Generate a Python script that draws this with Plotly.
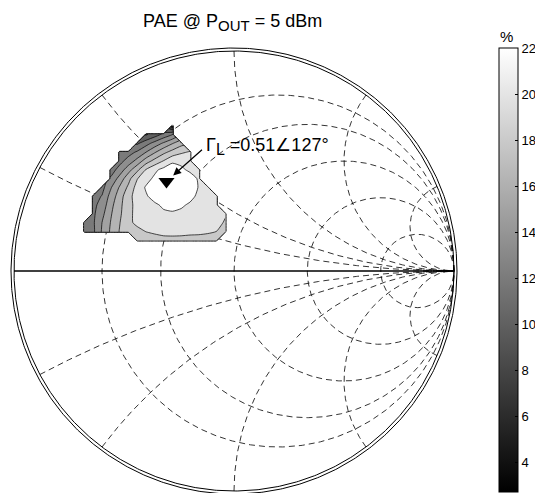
import numpy as np
import plotly.graph_objects as go

# ---------------- data ----------------
# Smith chart grid values (normalised resistance / reactance)
r_circles = [0.25, 0.5, 1, 2, 5]
x_arcs = [0.25, 0.5, 1, 2, 5, -0.25, -0.5, -1, -2, -5]

# Load reflection coefficient grid (real / imaginary part of Gamma_L)
gamma_re = [-0.68, -0.64, -0.60, -0.56, -0.52, -0.48, -0.44, -0.40, -0.36,
            -0.32, -0.28, -0.24, -0.20, -0.16, -0.12, -0.08, -0.04]
gamma_im = [0.14, 0.18, 0.22, 0.26, 0.30, 0.34, 0.38, 0.42,
            0.46, 0.50, 0.54, 0.58, 0.62, 0.66]

N = None
# PAE (%) on the grid above (rows: gamma_im, cols: gamma_re); None = not measured
pae = [
    [N, N, N, N, N, N, 16.6, 17.0, 17.3, 17.6, 17.6, 17.6, 17.5, 17.5, 17.4, 17.3, N],
    [9.2, 9.6, 12.2, 14.3, 16.1, 16.8, 17.5, 18.05, 18.3, 18.4, 18.45, 18.4, 18.35, 18.3, 18.2, 18.0, 17.6],
    [9.3, 9.7, 12.0, 14.1, 15.9, 17.6, 18.4, 18.8, 19.1, 19.3, 19.3, 19.2, 19.0, 18.8, 18.6, 18.3, 17.9],
    [N, 9.6, 11.4, 13.8, 15.6, 17.55, 18.5, 19.0, 19.4, 19.7, 19.8, 19.7, 19.5, 19.2, 18.9, 18.5, 18.1],
    [N, 9.5, 10.7, 13.4, 15.4, 17.5, 18.5, 19.1, 19.7, 20.3, 20.5, 20.2, 19.8, 19.4, 19.0, 18.6, N],
    [N, 9.2, 10.1, 12.75, 15.0, 17.4, 18.8, 19.8, 20.7, 21.3, 21.5, 21.1, 20.4, 19.7, 19.2, 18.8, N],
    [N, N, 9.3, 11.8, 14.2, 16.4, 18.8, 20.2, 21.1, 21.8, 22.0, 21.7, 20.9, 19.9, 19.3, N, N],
    [N, N, N, 10.3, 12.75, 15.3, 17.9, 19.3, 20.4, 21.3, 21.8, 21.5, 20.7, 19.8, N, N, N],
    [N, N, N, 9.0, 10.8, 13.2, 15.5, 18.15, 19.6, 20.6, 20.9, 20.3, 19.7, 19.3, N, N, N],
    [N, N, N, N, 9.3, 10.8, 12.7, 15.0, 16.7, 18.1, 19.7, 19.6, 19.2, N, N, N, N],
    [N, N, N, N, 8.3, 9.2, 10.3, 12.0, 13.8, 15.5, 16.7, 17.7, 18.2, N, N, N, N],
    [N, N, N, N, N, N, 7.7, 9.2, 10.8, 12.35, 13.9, 15.3, N, N, N, N, N],
    [N, N, N, N, N, N, N, 5.8, 7.0, 8.6, 10.0, N, N, N, N, N, N],
    [N, N, N, N, N, N, N, N, N, N, 2.7, N, N, N, N, N, N],
]

# optimum load
gamma_opt_mag = 0.51
gamma_opt_deg = 127

colorbar_ticks = [4, 6, 8, 10, 12, 14, 16, 18, 20, 22]
contour_levels = dict(start=4, end=20, size=2)
band_grays = ['#1a1a1a', '#3a3a3a', '#606060', '#7a7a7a', '#8e8e8e',
              '#a2a2a2', '#b4b4b4', '#c8c8c8', '#e3e3e3', '#ffffff']

# ---------------- figure ----------------
OFF = 8                               # page margin of the browser
W, H = 543 - OFF, 493 - OFF
CX, CY, RPX = 234 - OFF, 271 - OFF, 220   # chart centre / radius in pixels
xr = [-CX / RPX, (W - CX) / RPX]
yr = [(CY - H) / RPX, CY / RPX]

gray = [[0, 'rgb(0,0,0)'], [1, 'rgb(255,255,255)']]
band_scale = [[k / (len(band_grays) - 1), c] for k, c in enumerate(band_grays)]
dash = '6px,4px'
fig = go.Figure()

# resistance circles
t = np.linspace(0, 2 * np.pi, 721)
for r in r_circles:
    c, rad = r / (1 + r), 1 / (1 + r)
    fig.add_trace(go.Scatter(x=c + rad * np.cos(t), y=rad * np.sin(t), mode='lines',
                             line=dict(color='black', width=0.8, dash=dash),
                             hoverinfo='skip', showlegend=False))
# reactance arcs
rr = np.concatenate([[0.0], np.geomspace(1e-3, 1e4, 900)])
for xv in x_arcs:
    z = rr + 1j * xv
    g = (z - 1) / (z + 1)
    fig.add_trace(go.Scatter(x=g.real, y=g.imag, mode='lines',
                             line=dict(color='black', width=0.8, dash=dash),
                             hoverinfo='skip', showlegend=False))
# outer (double) circle
for rad in [1.0, 1.0136]:
    fig.add_trace(go.Scatter(x=rad * np.cos(t), y=rad * np.sin(t), mode='lines',
                             line=dict(color='black', width=1),
                             hoverinfo='skip', showlegend=False))
# real axis
fig.add_trace(go.Scatter(x=[-1, 1], y=[0, 0], mode='lines',
                         line=dict(color='black', width=1.6),
                         hoverinfo='skip', showlegend=False))

pae_arr = np.array(pae, dtype=float)
zmin, zmax = np.nanmin(pae_arr), np.nanmax(pae_arr)

gx = gamma_opt_mag * np.cos(np.deg2rad(gamma_opt_deg))
gy = gamma_opt_mag * np.sin(np.deg2rad(gamma_opt_deg))

fam = 'Arial, Liberation Sans'
# colourbar carrier (continuous gray scale)
fig.add_trace(go.Scatter(
    x=[gx], y=[gy], mode='markers', hoverinfo='skip', showlegend=False,
    marker=dict(size=1, opacity=0, color=[zmax], cmin=zmin, cmax=zmax,
                colorscale=gray, showscale=True,
                colorbar=dict(x=(499 - OFF) / W, xanchor='left', xpad=0, ypad=0,
                              thickness=19, thicknessmode='pixels',
                              len=444, lenmode='pixels',
                              y=1 - (270 - OFF) / H, yanchor='middle',
                              outlinewidth=1, outlinecolor='black',
                              tickvals=colorbar_ticks, ticks='inside', ticklen=3,
                              tickcolor='black',
                              tickfont=dict(family=fam, size=13, color='black')))))

# PAE filled contour (overlay axes so it sits above the grid)
fig.add_trace(go.Contour(
    x=gamma_re, y=gamma_im, z=pae, xaxis='x2', yaxis='y2',
    autocontour=False, contours=dict(coloring='fill', **contour_levels),
    colorscale=band_scale, showscale=False, connectgaps=False,
    line=dict(color='black', width=0.7, smoothing=0.5),
    hoverinfo='skip'))

# outline of the measured region
mask = np.pad((~np.isnan(pae_arr)).astype(float), 1)
du, dv = gamma_re[1] - gamma_re[0], gamma_im[1] - gamma_im[0]
u_p = np.concatenate([[gamma_re[0] - du], gamma_re, [gamma_re[-1] + du]])
v_p = np.concatenate([[gamma_im[0] - dv], gamma_im, [gamma_im[-1] + dv]])
fig.add_trace(go.Contour(
    x=u_p, y=v_p, z=mask, xaxis='x2', yaxis='y2',
    autocontour=False, contours=dict(coloring='none', start=0.9, end=0.9, size=1),
    line=dict(color='black', width=0.9, smoothing=0),
    showscale=False, hoverinfo='skip'))

# optimum marker
fig.add_trace(go.Scatter(x=[gx], y=[gy], xaxis='x2', yaxis='y2', mode='markers',
                         marker=dict(symbol='triangle-down', size=14, color='black'),
                         hoverinfo='skip', showlegend=False))

fig.add_annotation(x=gx, y=gy, xref='x2', yref='y2', text='', showarrow=True,
                   ax=37, ay=-33, axref='pixel', ayref='pixel', standoff=9,
                   arrowhead=2, arrowsize=1.3, arrowwidth=1.2, arrowcolor='black')
fig.add_annotation(x=gx, y=gy, xref='x2', yref='y2', showarrow=False,
                   text='Γ<sub><span style="font-size:16px">L</span></sub> =0.51∠127°',
                   xanchor='left', yanchor='middle',
                   xshift=38, yshift=35, font=dict(family=fam, size=18, color='black'))
fig.add_annotation(x=(232.5 - OFF) / W, y=1 - (22 - OFF) / H, xref='paper', yref='paper',
                   showarrow=False,
                   text='PAE @ P<sub><span style="font-size:15px">OUT</span></sub> = 5 dBm',
                   xanchor='center', yanchor='middle',
                   font=dict(family=fam, size=18, color='black'))
fig.add_annotation(x=(506 - OFF) / W, y=1 - (36 - OFF) / H, xref='paper', yref='paper',
                   showarrow=False, text='%', xanchor='center', yanchor='middle',
                   font=dict(family=fam, size=15, color='black'))

ax_common = dict(visible=False, showgrid=False, zeroline=False, fixedrange=True)
fig.update_layout(
    width=W, height=H, margin=dict(l=0, r=0, t=0, b=0, autoexpand=False),
    paper_bgcolor='white', plot_bgcolor='white', showlegend=False,
    xaxis=dict(range=xr, **ax_common), yaxis=dict(range=yr, **ax_common),
    xaxis2=dict(range=xr, overlaying='x', **ax_common),
    yaxis2=dict(range=yr, overlaying='y', **ax_common),
)
fig.write_html('out.html')
